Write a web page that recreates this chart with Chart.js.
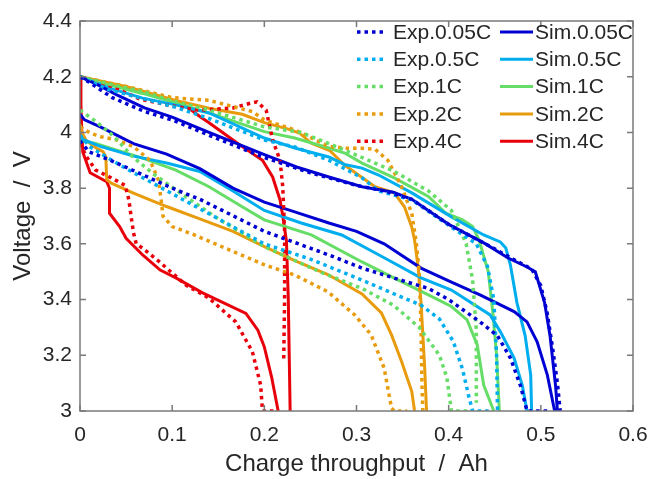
<!DOCTYPE html>
<html>
<head>
<meta charset="utf-8">
<script src="https://cdn.jsdelivr.net/npm/chart.js@4/dist/chart.umd.min.js"></script>
<style>
  html, body { margin: 0; padding: 0; background: #fff; }
  #wrap { width: 650px; height: 479px; }
</style>
</head>
<body>
<div id="wrap"><canvas id="voltage_chart" width="650" height="479"></canvas></div>
<script>
// [charge throughput (Ah), voltage (V)] ; "Up" branch starts at 4.2 V, "Low" branch below it
const exp005Up = [[0,4.2],[0.01,4.18],[0.035,4.125],[0.07,4.075],[0.1,4.045],[0.14,3.99],[0.2,3.91],[0.25,3.855],[0.3,3.81],[0.33,3.79],[0.36,3.76],[0.4,3.67],[0.44,3.6],[0.47,3.545],[0.49,3.51],[0.5,3.45],[0.507,3.35],[0.513,3.22],[0.518,3.1],[0.521,3.0]];
const exp005Low = [[0,3.97],[0.01,3.93],[0.033,3.9],[0.06,3.86],[0.1,3.8],[0.13,3.76],[0.2,3.645],[0.27,3.56],[0.306,3.513],[0.341,3.477],[0.378,3.44],[0.4,3.4],[0.434,3.32],[0.453,3.27],[0.467,3.19],[0.478,3.09],[0.485,3.0],[0.507,3.0]];
const sim005Up = [[0,4.2],[0.02,4.17],[0.04,4.135],[0.07,4.088],[0.1,4.055],[0.14,4.0],[0.2,3.92],[0.235,3.876],[0.27,3.84],[0.306,3.805],[0.34,3.785],[0.36,3.76],[0.4,3.67],[0.44,3.6],[0.464,3.55],[0.485,3.517],[0.494,3.5],[0.504,3.39],[0.51,3.27],[0.516,3.09],[0.518,3.0]];
const sim005Low = [[0,4.065],[0.005,4.045],[0.022,4.02],[0.058,3.96],[0.094,3.922],[0.13,3.87],[0.166,3.8],[0.2,3.75],[0.233,3.715],[0.27,3.675],[0.3,3.645],[0.33,3.6],[0.37,3.513],[0.403,3.463],[0.434,3.417],[0.471,3.357],[0.485,3.32],[0.496,3.248],[0.507,3.13],[0.515,3.0]];

const exp05Up = [[0,4.2],[0.03,4.155],[0.07,4.12],[0.104,4.09],[0.14,4.05],[0.2,3.973],[0.233,3.948],[0.27,3.9],[0.306,3.837],[0.324,3.79],[0.36,3.758],[0.403,3.66],[0.43,3.6],[0.442,3.52],[0.449,3.4],[0.452,3.2],[0.453,3.0]];
const exp05Low = [[0,3.99],[0.01,3.95],[0.022,3.925],[0.05,3.87],[0.1,3.78],[0.15,3.69],[0.2,3.6],[0.25,3.545],[0.306,3.47],[0.341,3.42],[0.37,3.38],[0.39,3.33],[0.405,3.25],[0.415,3.15],[0.422,3.05],[0.426,3.0],[0.445,3.0]];
const sim05Up = [[0,4.2],[0.032,4.159],[0.068,4.123],[0.104,4.099],[0.14,4.07],[0.2,3.98],[0.233,3.944],[0.27,3.912],[0.287,3.885],[0.306,3.872],[0.324,3.847],[0.36,3.783],[0.403,3.697],[0.438,3.632],[0.456,3.607],[0.462,3.585],[0.467,3.524],[0.474,3.39],[0.483,3.27],[0.489,3.13],[0.49,3.0]];
const sim05Low = [[0,3.99],[0.003,3.975],[0.022,3.95],[0.058,3.915],[0.094,3.89],[0.13,3.86],[0.166,3.79],[0.2,3.72],[0.24,3.675],[0.284,3.632],[0.33,3.55],[0.37,3.478],[0.403,3.434],[0.445,3.345],[0.456,3.285],[0.471,3.19],[0.48,3.09],[0.485,3.0]];

const exp1Up = [[0,4.2],[0.03,4.175],[0.07,4.145],[0.104,4.11],[0.14,4.08],[0.2,4.02],[0.24,4.0],[0.27,3.96],[0.306,3.91],[0.341,3.86],[0.378,3.79],[0.403,3.72],[0.419,3.6],[0.426,3.47],[0.43,3.29],[0.43,3.03]];
const exp1Low = [[0,4.08],[0.017,4.04],[0.032,4.0],[0.042,3.967],[0.057,3.913],[0.08,3.85],[0.11,3.78],[0.15,3.69],[0.2,3.59],[0.26,3.5],[0.306,3.44],[0.34,3.38],[0.368,3.3],[0.39,3.2],[0.398,3.12],[0.403,3.0],[0.422,3.0]];
const sim1Up = [[0,4.2],[0.032,4.17],[0.068,4.14],[0.104,4.106],[0.14,4.07],[0.2,4.003],[0.233,3.98],[0.27,3.944],[0.287,3.926],[0.306,3.89],[0.341,3.837],[0.378,3.77],[0.397,3.71],[0.415,3.686],[0.426,3.662],[0.433,3.614],[0.443,3.5],[0.448,3.35],[0.452,3.2],[0.455,3.0]];
const sim1Low = [[0,3.98],[0.003,3.97],[0.017,3.96],[0.032,3.944],[0.068,3.908],[0.104,3.865],[0.14,3.805],[0.176,3.733],[0.2,3.686],[0.251,3.632],[0.306,3.535],[0.341,3.477],[0.378,3.417],[0.403,3.375],[0.42,3.327],[0.431,3.237],[0.438,3.093],[0.449,3.0]];

const exp2Up = [[0,4.2],[0.05,4.165],[0.1,4.125],[0.14,4.115],[0.187,4.075],[0.2,4.045],[0.233,4.009],[0.27,3.95],[0.29,3.943],[0.306,3.943],[0.32,3.94],[0.334,3.9],[0.349,3.805],[0.36,3.71],[0.365,3.6],[0.368,3.5],[0.37,3.3],[0.371,3.1],[0.372,3.0]];
const exp2Low = [[0,4.02],[0.011,3.998],[0.022,3.985],[0.04,3.973],[0.058,3.949],[0.076,3.9],[0.085,3.83],[0.088,3.76],[0.09,3.7],[0.1,3.662],[0.122,3.635],[0.158,3.584],[0.2,3.525],[0.233,3.488],[0.269,3.428],[0.298,3.345],[0.316,3.273],[0.33,3.154],[0.338,3.01],[0.341,3.0],[0.355,3.0]];
const sim2Up = [[0,4.2],[0.05,4.165],[0.104,4.115],[0.14,4.087],[0.176,4.065],[0.2,4.035],[0.226,4.012],[0.238,3.998],[0.251,3.961],[0.271,3.935],[0.287,3.883],[0.32,3.805],[0.341,3.783],[0.352,3.733],[0.36,3.66],[0.363,3.614],[0.367,3.513],[0.37,3.39],[0.374,3.154],[0.376,3.0]];
const sim2Low = [[0,4.03],[0.002,4.0],[0.007,3.97],[0.018,3.943],[0.025,3.931],[0.028,3.913],[0.029,3.83],[0.034,3.818],[0.058,3.782],[0.094,3.734],[0.13,3.69],[0.166,3.645],[0.2,3.59],[0.233,3.54],[0.269,3.49],[0.306,3.42],[0.327,3.352],[0.338,3.273],[0.349,3.177],[0.36,3.07],[0.363,3.0]];

const exp4Up = [[0,4.2],[0.03,4.17],[0.065,4.12],[0.1,4.095],[0.13,4.08],[0.166,4.088],[0.185,4.105],[0.192,4.11],[0.202,4.08],[0.209,3.973],[0.217,3.9],[0.22,3.805],[0.222,3.64],[0.222,3.4],[0.221,3.18]];
const exp4Low = [[0,3.96],[0.007,3.913],[0.017,3.865],[0.032,3.84],[0.049,3.81],[0.053,3.758],[0.055,3.71],[0.058,3.64],[0.061,3.6],[0.068,3.584],[0.086,3.536],[0.115,3.452],[0.14,3.405],[0.169,3.32],[0.187,3.213],[0.196,3.093],[0.198,3.0],[0.213,3.0]];
const sim4Up = [[0,4.2],[0.05,4.16],[0.1,4.115],[0.115,4.095],[0.13,4.057],[0.14,4.035],[0.166,3.973],[0.176,3.949],[0.198,3.9],[0.209,3.84],[0.217,3.758],[0.22,3.7],[0.224,3.61],[0.226,3.4],[0.227,3.2],[0.228,3.0]];
const sim4Low = [[0,4.2],[0.001,4.1],[0.002,4.0],[0.003,3.93],[0.011,3.855],[0.029,3.823],[0.032,3.8],[0.032,3.71],[0.043,3.662],[0.05,3.62],[0.068,3.56],[0.087,3.506],[0.104,3.478],[0.133,3.424],[0.18,3.35],[0.193,3.29],[0.2,3.23],[0.208,3.12],[0.215,3.0]];

const rateLabels = ["0.05C", "0.5C", "1C", "2C", "4C"];
const rateColors = ["#0000D2", "#00AEEF", "#66DD66", "#E89B0C", "#E8000B"];
const expCurves = [[exp005Up, exp005Low], [exp05Up, exp05Low], [exp1Up, exp1Low], [exp2Up, exp2Low], [exp4Up, exp4Low]];
const simCurves = [[sim005Up, sim005Low], [sim05Up, sim05Low], [sim1Up, sim1Low], [sim2Up, sim2Low], [sim4Up, sim4Low]];

const xTicks = [0, 0.1, 0.2, 0.3, 0.4, 0.5, 0.6];
const yTicks = [3, 3.2, 3.4, 3.6, 3.8, 4, 4.2, 4.4];

const FONT = "'Liberation Sans', Arial, sans-serif";
const TEXT_COLOR = "#262626";
const FRAME_COLOR = "#7a7a7a";

// join both branches into one series, with a null point so the line breaks between them
function toPoints(branches) {
  let pts = [];
  branches.forEach((b, i) => {
    if (i > 0) pts.push({ x: b[0][0], y: null });
    b.forEach((p) => pts.push({ x: p[0], y: p[1] }));
  });
  return pts;
}

let datasets = [];
expCurves.forEach((c, i) => {
  datasets.push({
    label: "Exp." + rateLabels[i],
    data: toPoints(c),
    borderColor: rateColors[i],
    borderWidth: 3.5,
    borderDash: [3.5, 4],
    borderCapStyle: "butt",
  });
});
simCurves.forEach((c, i) => {
  datasets.push({
    label: "Sim." + rateLabels[i],
    data: toPoints(c),
    borderColor: rateColors[i],
    borderWidth: 3,
  });
});

// box around the axes, inward tick marks and the two column legend
const framePlugin = {
  id: "frame",
  afterDatasetsDraw(chart) {
    let ctx = chart.ctx;
    let a = chart.chartArea;
    let xs = chart.scales.x;
    let ys = chart.scales.y;
    ctx.save();
    ctx.strokeStyle = FRAME_COLOR;
    ctx.lineWidth = 1.5;
    ctx.strokeRect(a.left, a.top, a.right - a.left, a.bottom - a.top);
    ctx.beginPath();
    xTicks.forEach((t) => {
      let px = xs.getPixelForValue(t);
      ctx.moveTo(px, a.bottom);
      ctx.lineTo(px, a.bottom - 6);
      ctx.moveTo(px, a.top);
      ctx.lineTo(px, a.top + 6);
    });
    yTicks.forEach((t) => {
      let py = ys.getPixelForValue(t);
      ctx.moveTo(a.left, py);
      ctx.lineTo(a.left + 6, py);
      ctx.moveTo(a.right, py);
      ctx.lineTo(a.right - 6, py);
    });
    ctx.stroke();

    // legend: Exp in the first column, Sim in the second
    ctx.font = "21px " + FONT;
    ctx.textBaseline = "middle";
    ctx.fillStyle = TEXT_COLOR;
    let cols = [
      { lineX: 357, lineW: 30, textX: 393 },
      { lineX: 500, lineW: 33, textX: 535 },
    ];
    chart.data.datasets.forEach((ds, i) => {
      let col = cols[Math.floor(i / 5)];
      let y = 32 + (i % 5) * 27.3;
      ctx.strokeStyle = ds.borderColor;
      ctx.lineWidth = ds.borderWidth;
      ctx.lineCap = "butt";
      ctx.setLineDash(ds.borderDash || []);
      ctx.beginPath();
      ctx.moveTo(col.lineX, y);
      ctx.lineTo(col.lineX + col.lineW, y);
      ctx.stroke();
      ctx.setLineDash([]);
      ctx.fillText(ds.label, col.textX, y + 1);
    });
    ctx.restore();
  },
};

const ctx = document.getElementById("voltage_chart").getContext("2d");

new Chart(ctx, {
  type: "line",
  data: { datasets },
  options: {
    responsive: false,
    animation: false,
    devicePixelRatio: 1,
    spanGaps: false,
    elements: { point: { radius: 0 }, line: { tension: 0 } },
    layout: { padding: { top: 21, right: 17, left: 0, bottom: 0 } },
    plugins: { legend: { display: false }, tooltip: { enabled: false } },
    scales: {
      x: {
        type: "linear",
        min: 0,
        max: 0.6,
        afterFit: (s) => {
          s.height = 68;
          s.paddingLeft = 0;
          s.paddingRight = 0;
        },
        afterBuildTicks: (s) => { s.ticks = xTicks.map((v) => ({ value: v })); },
        grid: { display: false, drawTicks: false },
        border: { display: false },
        ticks: {
          padding: 12,
          color: TEXT_COLOR,
          font: { family: FONT, size: 21 },
          callback: (v) => String(+v.toFixed(2)),
        },
        title: {
          display: true,
          text: "Charge throughput  /  Ah",
          color: TEXT_COLOR,
          font: { family: FONT, size: 24 },
          padding: { top: 0, bottom: 0 },
        },
      },
      y: {
        min: 3,
        max: 4.4,
        afterFit: (s) => {
          s.width = 80;
          s.paddingTop = 0;
          s.paddingBottom = 0;
        },
        afterBuildTicks: (s) => { s.ticks = yTicks.map((v) => ({ value: v })); },
        grid: { display: false, drawTicks: false },
        border: { display: false },
        ticks: {
          padding: 8,
          color: TEXT_COLOR,
          font: { family: FONT, size: 21 },
          callback: (v) => String(+v.toFixed(2)),
        },
        title: {
          display: true,
          text: "Voltage  /  V",
          color: TEXT_COLOR,
          font: { family: FONT, size: 24 },
          padding: { top: 9, bottom: 0 },
        },
      },
    },
  },
  plugins: [framePlugin],
});
</script>
</body>
</html>
